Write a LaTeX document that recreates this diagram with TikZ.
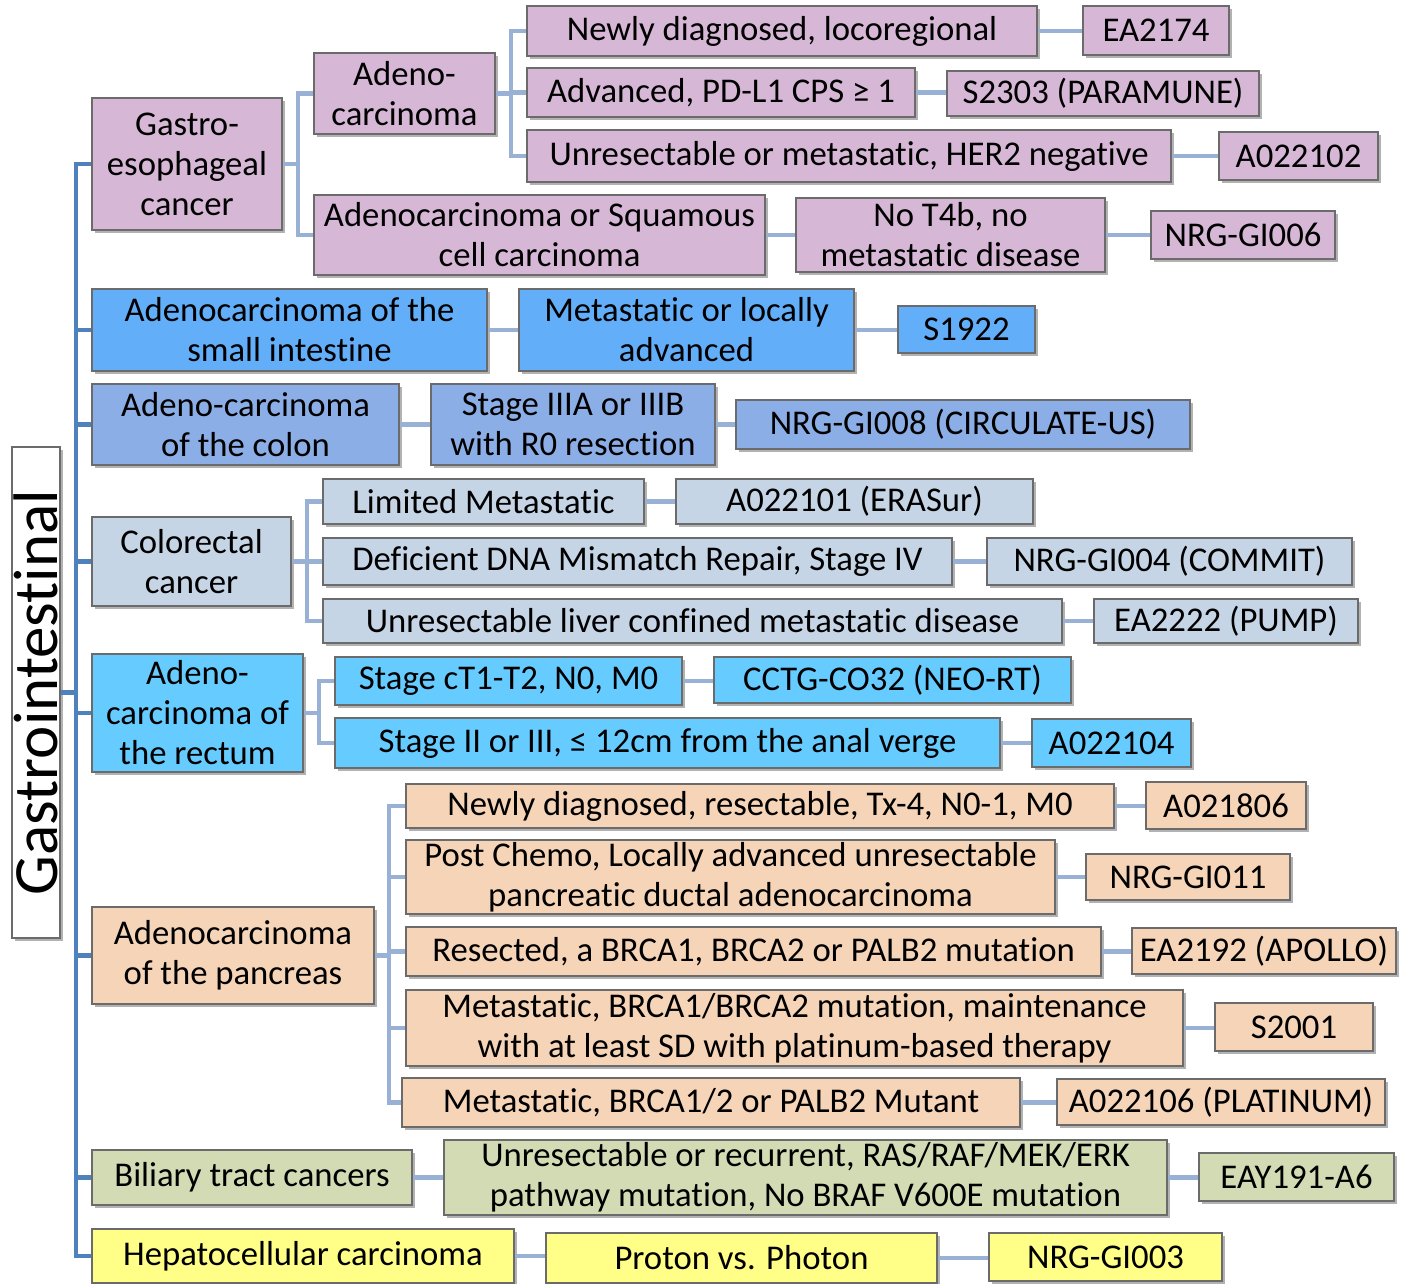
\documentclass[tikz,border=0pt]{standalone}
\usepackage{fontspec}
\setmainfont{Carlito}[Ligatures={NoCommon}]
\usetikzlibrary{shadows}
\definecolor{cpurple}{RGB}{214,184,214}
\definecolor{csmall}{RGB}{98,174,248}
\definecolor{ccolon}{RGB}{140,174,230}
\definecolor{ccrc}{RGB}{198,213,230}
\definecolor{crect}{RGB}{102,204,255}
\definecolor{cpanc}{RGB}{245,212,183}
\definecolor{cbil}{RGB}{210,219,179}
\definecolor{chep}{RGB}{255,255,136}
\definecolor{lone}{RGB}{79,129,189}
\definecolor{ltwo}{RGB}{154,177,214}
\newcommand\fs{\fontsize{34.7}{40}\selectfont}
\newcommand\bx[7]{\node[box,fill=#6,minimum width=#4pt,minimum height=#5pt] (#1) at (#2,#3) {#7};}
\begin{document}
\begin{tikzpicture}[x=1pt,y=-1pt,
  box/.style={draw=black!58, line width=1.3pt, align=center, inner sep=0pt, font=\fs,
    drop shadow={shadow xshift=3pt, shadow yshift=-3pt, opacity=0.3, fill=black}},
  l1/.style={draw=lone, line width=4.5pt},
  l2/.style={draw=ltwo, line width=4.5pt}]
\useasboundingbox (0,0) rectangle (1406,1283);
% root
\node[box, fill=white, rotate=90, minimum width=491pt, minimum height=48pt,
  font=\fontsize{63}{66}\selectfont] (root) at (36,692.5) {Gastrointestinal};
% level 1
\bx{gastro}{187}{164}{190}{132}{cpurple}{Gastro-\\esophageal\\cancer}
\bx{small}{289.5}{330}{395}{82}{csmall}{Adenocarcinoma of the\\small intestine}
\bx{colon}{245.5}{424.5}{307}{81}{ccolon}{Adeno-carcinoma\\of the colon}
\bx{crc}{191.5}{561.5}{199}{89}{ccrc}{Colorectal\\cancer}
\bx{rect}{197.5}{713}{211}{118}{crect}{Adeno-\\carcinoma of\\the rectum}
\bx{panc}{233}{955.5}{282}{97}{cpanc}{Adenocarcinoma\\of the pancreas}
\bx{bil}{252}{1177.5}{320}{55}{cbil}{Biliary tract cancers}
\bx{hep}{303}{1256}{422}{54}{chep}{Hepatocellular carcinoma}
% gastro branch
\bx{adeno}{404.5}{93.5}{181}{81}{cpurple}{Adeno-\\carcinoma}
\bx{adsq}{539.5}{235}{451}{80}{cpurple}{Adenocarcinoma or Squamous\\cell carcinoma}
\bx{newly}{782}{31}{510}{50}{cpurple}{Newly diagnosed, locoregional}
\bx{adv}{721}{92.5}{388}{49}{cpurple}{Advanced, PD-L1 CPS ≥ 1}
\bx{unres}{849}{156}{644}{52}{cpurple}{Unresectable or metastatic, HER2 negative}
\bx{ea2174}{1156}{30.5}{146}{49}{cpurple}{EA2174}
\bx{s2303}{1103}{93.5}{312}{45}{cpurple}{S2303 (PARAMUNE)}
\bx{a022102}{1298.5}{156}{159}{48}{cpurple}{A022102}
\bx{not4b}{950.5}{235}{309}{74}{cpurple}{No T4b, no\\metastatic disease}
\bx{gi006}{1243}{235}{184}{48}{cpurple}{NRG-GI006}
% small intestine
\bx{metloc}{686.5}{330}{335}{82}{csmall}{Metastatic or locally\\advanced}
\bx{s1922}{966.5}{329.5}{137}{47}{csmall}{S1922}
% colon
\bx{st3}{573}{424.5}{284}{81}{ccolon}{Stage IIIA or IIIB\\with R0 resection}
\bx{gi008}{963}{424.5}{454}{49}{ccolon}{NRG-GI008 (CIRCULATE-US)}
% colorectal
\bx{limmet}{483.5}{501.5}{321}{45}{ccrc}{Limited Metastatic}
\bx{a022101}{854.5}{501.5}{357}{45}{ccrc}{A022101 (ERASur)}
\bx{ddmr}{637.5}{561.5}{629}{47}{ccrc}{Deficient DNA Mismatch Repair, Stage IV}
\bx{gi004}{1169.5}{561.5}{365}{47}{ccrc}{NRG-GI004 (COMMIT)}
\bx{liver}{692.5}{621}{739}{44}{ccrc}{Unresectable liver confined metastatic disease}
\bx{ea2222}{1226}{621}{264}{44}{ccrc}{EA2222 (PUMP)}
% rectum
\bx{ct1}{508.5}{681}{347}{48}{crect}{Stage cT1-T2, N0, M0}
\bx{co32}{892.5}{680}{357}{46}{crect}{CCTG-CO32 (NEO-RT)}
\bx{st23}{667.5}{743}{665}{50}{crect}{Stage II or III, ≤ 12cm from the anal verge}
\bx{a022104}{1111.5}{743}{159}{48}{crect}{A022104}
% pancreas
\bx{nd}{760}{806}{708}{44}{cpanc}{Newly diagnosed, resectable, Tx-4, N0-1, M0}
\bx{a021806}{1226}{805.5}{160}{47}{cpanc}{A021806}
\bx{pc}{730.5}{877}{649}{74}{cpanc}{Post Chemo, Locally advanced unresectable\\pancreatic ductal adenocarcinoma}
\bx{gi011}{1188}{877}{204}{46}{cpanc}{NRG-GI011}
\bx{res}{753.5}{951.5}{695}{49}{cpanc}{Resected, a BRCA1, BRCA2 or PALB2 mutation}
\bx{apollo}{1264}{951}{264}{46}{cpanc}{EA2192 (APOLLO)}
\bx{metbrca}{794.5}{1028}{777}{76}{cpanc}{Metastatic, BRCA1/BRCA2 mutation, maintenance\\with at least SD with platinum-based therapy}
\bx{s2001}{1294}{1027}{158}{48}{cpanc}{S2001}
\bx{met12}{711}{1102.5}{618}{49}{cpanc}{Metastatic, BRCA1/2 or PALB2 Mutant}
\bx{plat}{1221}{1102}{328}{46}{cpanc}{A022106 (PLATINUM)}
% biliary
\bx{ras}{805.5}{1177.5}{723}{75}{cbil}{Unresectable or recurrent, RAS/RAF/MEK/ERK\\pathway mutation, No BRAF V600E mutation}
\bx{eay}{1296.5}{1177}{195}{48}{cbil}{EAY191-A6}
% hepatocellular
\bx{proton}{741.5}{1258}{391}{50}{chep}{Proton vs. Photon}
\bx{gi003}{1105.5}{1257}{233}{48}{chep}{NRG-GI003}
% trunk
\coordinate (t) at (76,692.5);
\draw[l1] (root.south) -- (t);
\foreach \n in {gastro,small,colon,crc,rect,panc,bil,hep} \draw[l1] (\n.west) -| (t);
% brackets
\coordinate (gb) at (298,164);
\draw[l2] (gastro.east) -- (gb);
\foreach \n in {adeno,adsq} \draw[l2] (\n.west) -| (gb);
\coordinate (ab) at (511,93.5);
\draw[l2] (adeno.east) -- (ab);
\foreach \n in {newly,adv,unres} \draw[l2] (\n.west) -| (ab);
\coordinate (cb) at (307,561.5);
\draw[l2] (crc.east) -- (cb);
\foreach \n in {limmet,ddmr,liver} \draw[l2] (\n.west) -| (cb);
\coordinate (rb) at (319,713);
\draw[l2] (rect.east) -- (rb);
\foreach \n in {ct1,st23} \draw[l2] (\n.west) -| (rb);
\coordinate (pb) at (389,955.5);
\draw[l2] (panc.east) -- (pb);
\foreach \n in {nd,pc,res,metbrca,met12} \draw[l2] (\n.west) -| (pb);
% straight links
\foreach \a/\b in {newly/ea2174,adv/s2303,unres/a022102,adsq/not4b,not4b/gi006,
  small/metloc,metloc/s1922,colon/st3,st3/gi008,limmet/a022101,ddmr/gi004,liver/ea2222,
  ct1/co32,st23/a022104,nd/a021806,pc/gi011,res/apollo,metbrca/s2001,met12/plat,
  bil/ras,ras/eay,hep/proton,proton/gi003}
  \draw[l2] (\a.east) -- (\a.east -| \b.west);
\end{tikzpicture}
\end{document}
